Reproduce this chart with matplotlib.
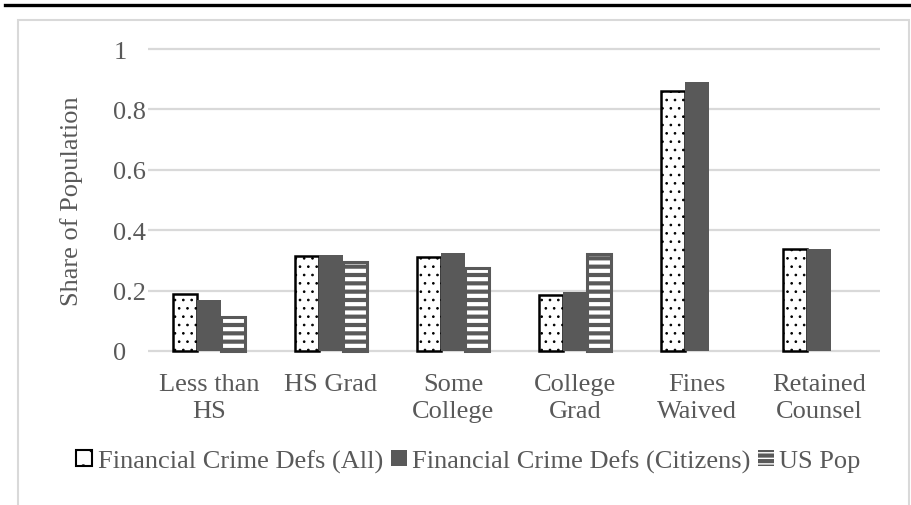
import numpy as np
import matplotlib.pyplot as plt
from matplotlib.patches import Patch, Rectangle
from matplotlib.lines import Line2D

categories = ['Less than\nHS', 'HS Grad', 'Some\nCollege', 'College\nGrad',
              'Fines\nWaived', 'Retained\nCounsel']
defs_all = [0.189, 0.315, 0.310, 0.186, 0.860, 0.338]
defs_citizens = [0.169, 0.318, 0.323, 0.196, 0.892, 0.337]
us_pop = [0.113, 0.295, 0.276, 0.322, np.nan, np.nan]
series_names = ['Financial Crime Defs (All)', 'Financial Crime Defs (Citizens)', 'US Pop']
yticks = [0, 0.2, 0.4, 0.6, 0.8, 1]

plt.rcParams['font.family'] = ['Liberation Serif', 'DejaVu Serif']
grey_text = '#595959'
dark = '#595959'
grid_c = '#d9d9d9'
fs = 19

fig = plt.figure(figsize=(9.11, 5.06), dpi=100)
ax = fig.add_axes([148 / 911, 1 - 355 / 506, 732 / 911, 308 / 506])

x = np.arange(len(categories))
w = 0.197

plt.rcParams['hatch.linewidth'] = 0.7
ax.bar(x - w, defs_all, w, color='white', edgecolor='black', hatch='..',
       linewidth=1.8, zorder=3)
ax.bar(x, defs_citizens, w, color=dark, linewidth=0, zorder=3)
plt.rcParams['hatch.linewidth'] = 3.0
ax.bar(x + w, us_pop, w, color=dark, edgecolor='white', hatch='--',
       linewidth=0, zorder=3)
ax.bar(x + w, us_pop, w, color='none', edgecolor=dark, linewidth=2.2, zorder=4)

ax.set_xlim(-0.5, len(categories) - 0.5)
ax.set_ylim(-0.01, 1.01)
ax.set_yticks(yticks)
ax.set_yticklabels([f'{t:g}' for t in yticks], ha='left')
ax.set_xticks(x)
ax.set_xticklabels(categories, linespacing=1.28)
ax.tick_params(length=0, labelsize=fs, colors=grey_text)
ax.tick_params(axis='x', pad=14)
ax.tick_params(axis='y', pad=25)
for s in ax.spines.values():
    s.set_visible(False)
ax.yaxis.grid(True, color=grid_c, linewidth=1.6, zorder=0)
ax.set_axisbelow(True)
ax.set_ylabel('Share of Population', fontsize=fs, color=grey_text, labelpad=22)

# outer frame and rule along the top
fig.add_artist(Rectangle((18 / 911, -0.05), 891 / 911, 1.05 - 21 / 506,
                         transform=fig.transFigure, fill=False,
                         edgecolor=grid_c, linewidth=1.5))
fig.add_artist(Line2D([5 / 911, 1], [1 - 6 / 506] * 2, transform=fig.transFigure,
                      color='black', linewidth=2.4))

plt.rcParams['hatch.linewidth'] = 1.0
handles = [
    Patch(facecolor='white', edgecolor='black', hatch='.', linewidth=1.5),
    Patch(facecolor=dark, edgecolor=dark, linewidth=0),
    Patch(facecolor=dark, edgecolor='white', hatch='---', linewidth=0),
]
leg = fig.legend(handles, series_names, loc='center',
                 bbox_to_anchor=(0.5 + 13 / 911, 1 - 462 / 506),
                 ncol=3, frameon=False, fontsize=fs, handlelength=0.6,
                 handleheight=0.6, handletextpad=0.2, columnspacing=0.3,
                 borderaxespad=0)
for t in leg.get_texts():
    t.set_color(grey_text)

fig.savefig('out.png', dpi=100)
